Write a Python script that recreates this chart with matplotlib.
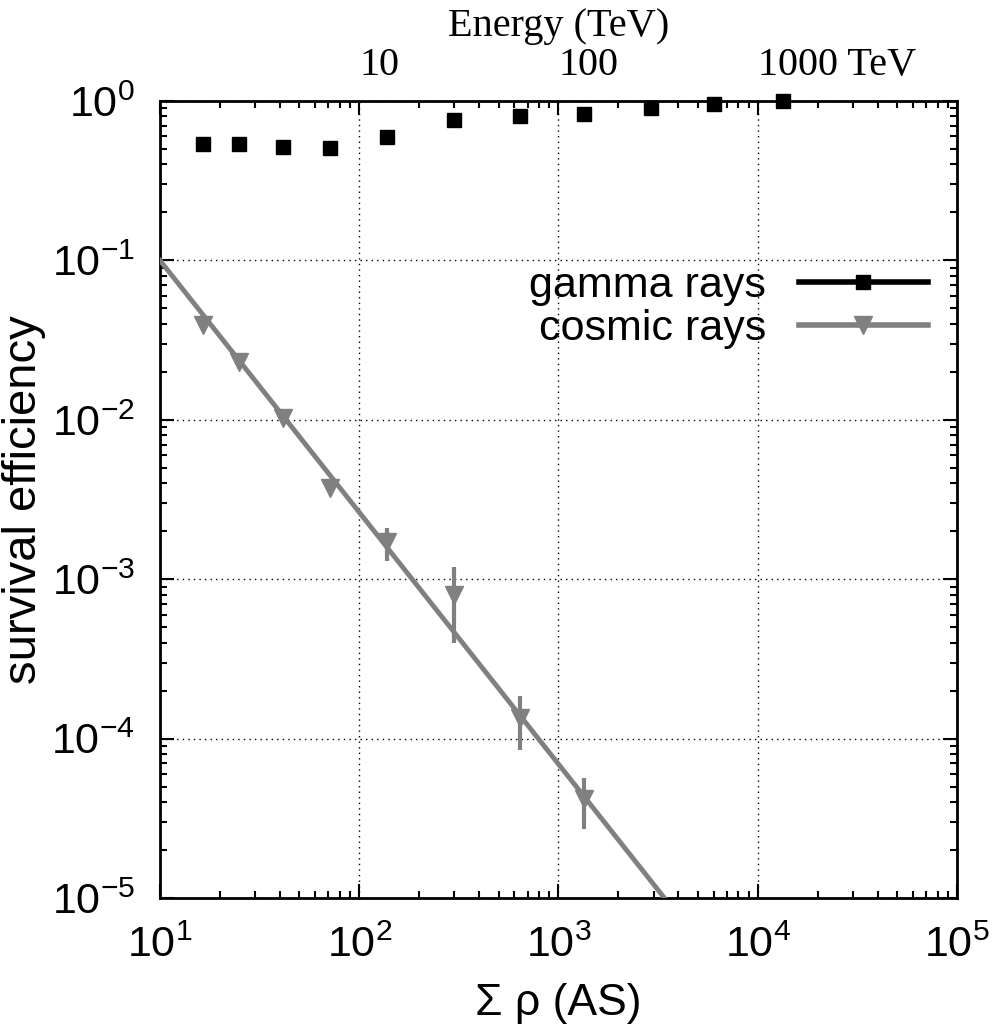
import numpy as np
import matplotlib
matplotlib.use('Agg')
import matplotlib.pyplot as plt
import matplotlib.ticker as ticker
from matplotlib.lines import Line2D

plt.rcParams['font.family'] = ['Liberation Sans', 'DejaVu Sans']
plt.rcParams['mathtext.fontset'] = 'custom'
plt.rcParams['mathtext.rm'] = 'Liberation Sans'
plt.rcParams['mathtext.it'] = 'Liberation Sans:italic'

# data
sum_rho = [16.5, 24.9, 41.4, 71.3, 138, 299, 640, 1340, 2910, 6030, 13400]
gamma_eff = [0.537, 0.537, 0.517, 0.51, 0.597, 0.76, 0.809, 0.829, 0.904, 0.957, 1.0]

cr_rho = [16.5, 24.9, 41.4, 71.3, 138, 299, 640, 1340]
cr_eff = [0.0394, 0.0232, 0.0103, 0.00375, 0.0017, 0.0008, 0.000135, 0.000042]
cr_err = [0.002, 0.001, 0.0005, 0.0002, 0.0004, 0.0004, 0.00005, 0.000015]

# power-law fit for cosmic rays
fit_pivot = 10.0
fit_amp = 0.1
fit_index = -1.58

energy_pos = [100, 1000, 10000]
energy_labels = ['10', '100', '1000 TeV']

grey = '#808080'

fig = plt.figure(figsize=(9.95, 10.34), dpi=100)
ax = fig.add_axes([0.1608, 0.1315, 0.801, 0.7708])

xf = np.logspace(1, 5, 200)
ax.plot(xf, fit_amp * (xf / fit_pivot) ** fit_index, color=grey, lw=3.5, zorder=3)
ax.errorbar(cr_rho, cr_eff, yerr=cr_err, fmt='v', color=grey, ms=13,
            elinewidth=3, capsize=0, zorder=4)
ax.plot(sum_rho, gamma_eff, 's', color='black', ms=10, clip_on=False, zorder=5)

ax.set_xscale('log')
ax.set_yscale('log')
ax.set_xlim(10, 1e5)
ax.set_ylim(1e-5, 1)

ax.xaxis.set_major_formatter(ticker.LogFormatterSciNotation())
ax.yaxis.set_major_formatter(ticker.LogFormatterSciNotation())
ax.tick_params(which='both', direction='in', top=True, right=True, width=1.5)
ax.tick_params(which='major', length=10, labelsize=31)
ax.tick_params(which='minor', length=5)
ax.tick_params(axis='x', which='major', pad=20)
ax.tick_params(axis='y', which='major', pad=18)
for s in ax.spines.values():
    s.set_linewidth(2)
ax.grid(which='major', color='black', linestyle=(0, (1, 3)), linewidth=1)

ax.set_xlabel('Σ ρ (AS)', fontsize=32, labelpad=12)
ax.set_ylabel('survival efficiency', fontsize=34, labelpad=4)

# top axis with energy labels
sec = ax.secondary_xaxis('top')
sec.set_xticks(energy_pos)
sec.set_xticklabels(energy_labels, family='Liberation Serif', fontsize=29, ha='left')
sec.tick_params(length=0, pad=12)
sec.xaxis.set_minor_locator(ticker.NullLocator())
sec.set_xlabel('Energy (TeV)', family='Liberation Serif', fontsize=29, labelpad=8)

handles = [Line2D([], [], color='black', lw=4, marker='s', ms=10),
           Line2D([], [], color=grey, lw=4, marker='v', ms=13)]
ax.legend(handles, ['gamma rays', 'cosmic rays'], loc='upper right',
          bbox_to_anchor=(0.985, 0.815), frameon=False, fontsize=31,
          markerfirst=False, handlelength=3.0, handletextpad=0.75,
          labelspacing=0.08, borderaxespad=0)

fig.savefig('out.png', dpi=100)
